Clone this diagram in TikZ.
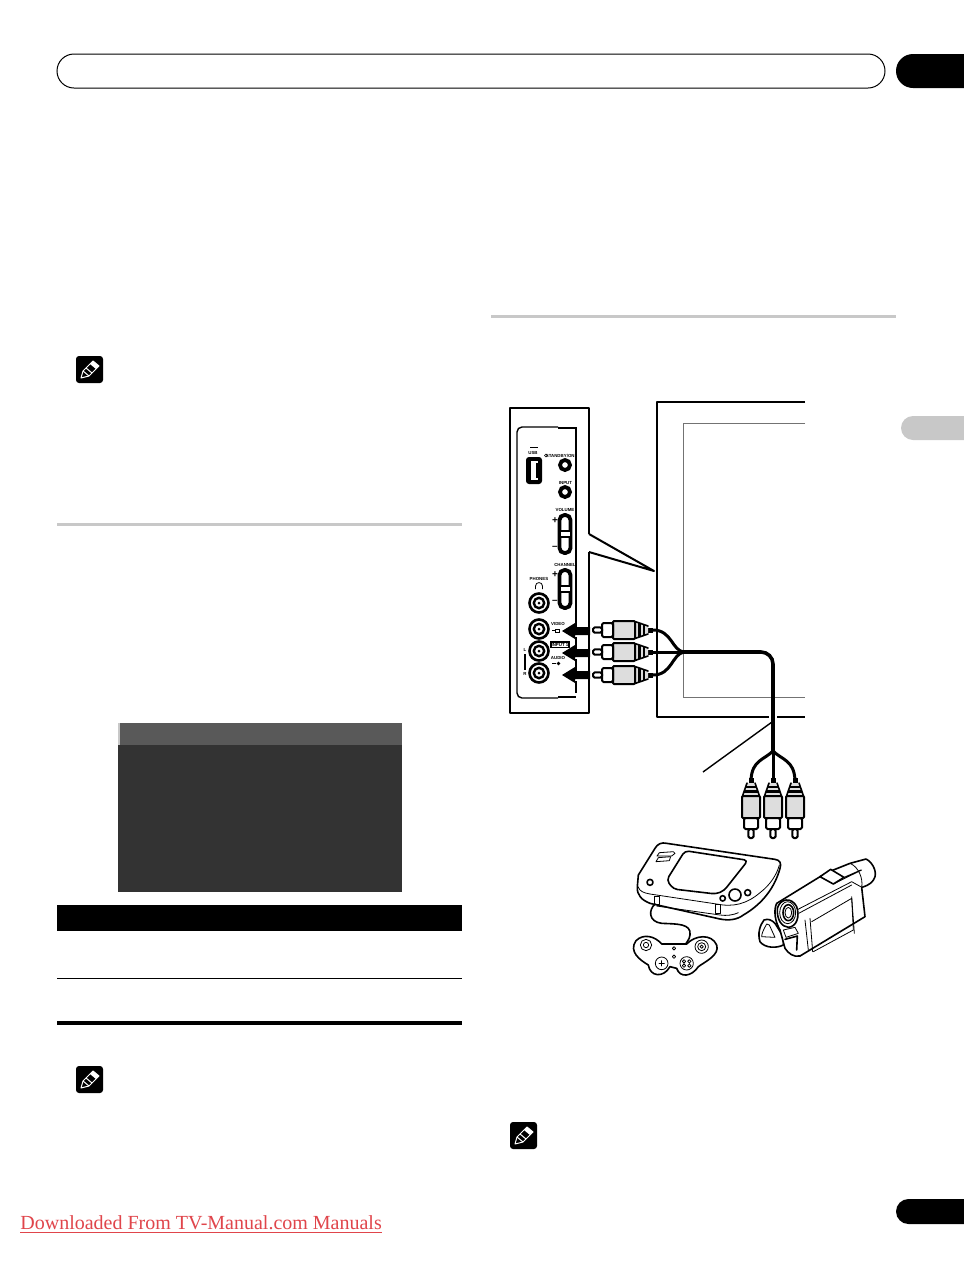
\documentclass[tikz,border=0pt]{standalone}
\usepackage{fontspec}
\setmainfont{Liberation Serif}
\setsansfont{Liberation Sans}
\usepackage{xcolor}
\definecolor{rulegrey}{HTML}{C8C8C8}
\definecolor{boxdark}{HTML}{333333}
\definecolor{boxhead}{HTML}{595959}
\definecolor{plugbody}{HTML}{DDDDDD}
\definecolor{linkred}{HTML}{E0454B}
\tikzset{>=latex}
\tikzset{
    panellabel/.style={font=\sffamily\bfseries\fontsize{2.2}{2.2}\selectfont, inner sep=0pt},
    signlabel/.style={font=\sffamily\bfseries\fontsize{5}{5}\selectfont, inner sep=0pt},
    panelline/.style={line width=1pt, line join=round},
    gadget/.style={line width=.8pt, line join=round, line cap=round},
    gadgetthin/.style={line width=.4pt, line join=round, line cap=round},
    cable/.style={line width=1.5pt, line cap=round},
    jack/.pic={
        \draw[line width=1.3pt] (0, 0) circle (9.5);
        \draw[line width=1.2pt] (0, 0) circle (5.2);
        \fill (0, 0) circle (1.5);
    },
    smalljack/.pic={
        \draw[line width=1.9pt] (0, 0) circle (5);
    },
    rockerkey/.pic={
        \draw[line width=1.9pt, rounded corners=2.5pt] (-5.5, 0) rectangle (5.5, 38);
        \fill[white] (-4.5, 16) rectangle (4.5, 22);
        \draw[line width=1.1pt] (-5, 16) -- (5, 16) (-5, 22) -- (5, 22);
    },
    rcaplug/.pic={
        % neck, taper, grey body, collar and pin, from the cable end
        \fill (0, -2.5) rectangle (5, 2.5);
        \fill[plugbody] (5, -4) -- (18, -8.5) -- (18, 8.5) -- (5, 4) -- cycle;
        \draw[gadget] (5, -4) -- (18, -8.5) (5, 4) -- (18, 8.5);
        \draw[line width=1.2pt] (9, -5.2) -- (9, 5.2);
        \draw[line width=1.2pt] (13.5, -6.6) -- (13.5, 6.6);
        \draw[panelline, fill=plugbody, rounded corners=.5pt] (18, -9) rectangle (40, 9);
        \draw[panelline, fill=white, rounded corners=.75pt] (40, -7) rectangle (51, 7);
        \draw[panelline, fill=white, rounded corners=.75pt] (51, -2.6) rectangle (60, 2.6);
    },
    penicon/.pic={
        \fill[rounded corners=1.5pt] (0, 0) rectangle (27, 27);
        \draw[white, line width=.5pt, line join=round] (5, 22) -- (7, 15) -- (17, 5) -- (23, 10) -- (13, 20) -- cycle;
        \draw[white, line width=.5pt] (7, 15) -- (13, 20) (10, 12) -- (16, 17);
        \fill[white] (14, 8) -- (17, 5) -- (23, 10) -- (20, 13) -- cycle;
    },
}

\begin{document}
\begin{tikzpicture}[x=.5pt, y=-.5pt]
    \useasboundingbox (0, 0) rectangle (964, 1270);
    \fill[white] (0, 0) rectangle (964, 1270);

    % page furniture
    \draw[line width=.5pt, rounded corners=8.5pt] (57, 54) rectangle (885, 88);
    \fill (964, 54) -- (913, 54) .. controls (903.6, 54) and (896, 61.6) .. (896, 71)
        .. controls (896, 80.4) and (903.6, 88) .. (913, 88) -- (964, 88) -- cycle;
    \fill (964, 1199) -- (908.5, 1199) .. controls (901.6, 1199) and (896, 1204.6) .. (896, 1211.5)
        .. controls (896, 1218.4) and (901.6, 1224) .. (908.5, 1224) -- (964, 1224) -- cycle;
    \fill[rulegrey] (964, 416) -- (913, 416) .. controls (906.4, 416) and (901, 421.4) .. (901, 428)
        .. controls (901, 434.6) and (906.4, 440) .. (913, 440) -- (964, 440) -- cycle;
    \fill[rulegrey] (57, 522.5) rectangle (462, 526);
    \fill[rulegrey] (491, 314.5) rectangle (896, 318);
    \pic at (76, 356) {penicon};
    \pic at (76, 1066) {penicon};
    \pic at (510, 1122) {penicon};

    % menu screen
    \fill[boxdark] (118, 745) rectangle (402, 892);
    \fill[boxhead] (120, 723) rectangle (402, 745);
    \fill[rulegrey] (118, 723) rectangle (120, 745);

    % table
    \fill (57, 905) rectangle (462, 931);
    \draw[line width=.5pt] (57, 978) -- (462, 978);
    \fill (57, 1021) rectangle (462, 1025);

    % television
    \draw[panelline] (805, 402) -- (657, 402) -- (657, 717) -- (769, 717);
    \draw[panelline] (777, 717) -- (805, 717);
    \draw[line width=.5pt, draw=black!55] (805, 423) -- (683, 423) -- (683, 697) -- (805, 697);

    % side panel
    \draw[panelline] (589, 534) -- (589, 408) -- (510, 408) -- (510, 713) -- (589, 713) -- (589, 552);
    \draw[panelline] (589, 534) -- (654, 571) -- (589, 552);
    \draw[line width=.7pt, rounded corners=2.5pt] (558, 427) -- (517, 427) -- (517, 698) -- (558, 698);
    \draw[line width=.7pt] (558, 428) -- (576, 428) -- (576, 615) (558, 697) -- (576, 697);
    \draw[line width=.7pt, dash pattern=on 6 off 5] (576, 615) -- (576, 697);

    \fill[rounded corners=1.5pt] (526, 457) rectangle (542, 484);
    \fill[white] (531, 461) rectangle (536, 480);
    \fill[white] (536, 461) rectangle (538, 463);
    \fill[white] (536, 478) rectangle (538, 480);
    \draw[line width=.4pt] (530, 447) -- (538, 447);
    \node[panellabel] (usblabel) at (533, 453) {USB};

    \pic at (565, 465) {smalljack};
    \pic at (565, 492) {smalljack};
    \node[panellabel, anchor=east] (standbylabel) at (575, 455.5) {STANDBY/ON};
    \draw[line width=.25pt] (546, 455.5) circle (1.5);
    \node[panellabel] (inputlabel) at (565.5, 483) {INPUT};
    \node[panellabel] (volumelabel) at (565, 510) {VOLUME};
    \node[panellabel] (channellabel) at (565, 565) {CHANNEL};
    \node[panellabel] (phoneslabel) at (539, 579) {PHONES};
    \pic at (565, 515) {rockerkey};
    \pic at (565, 570) {rockerkey};
    \node[signlabel] (volplus) at (555, 521) {+};
    \node[signlabel] (volminus) at (555, 548) {--};
    \node[signlabel] (chplus) at (555, 575) {+};
    \node[signlabel] (chminus) at (555, 602) {--};

    \draw[line width=.4pt] (535.5, 589) -- (535.5, 586) .. controls (535.5, 581.5) and (542.5, 581.5) .. (542.5, 586) -- (542.5, 589);
    \foreach \jacky in {603, 629, 651, 673} {
        \pic at (539, \jacky) {jack};
    }

    \node[panellabel] (videolabel) at (558, 624) {VIDEO};
    \draw[line width=.3pt] (555, 629) rectangle (559, 632);
    \draw[line width=.3pt] (552, 630.5) -- (555, 630.5);
    \draw[line width=.7pt, fill=white] (551, 642) rectangle (569, 647.5);
    \node[panellabel] (inputbox) at (560, 644.8) {INPUT 1};
    \node[panellabel] (audiolabel) at (558, 658) {AUDIO};
    \fill (558.5, 663.5) circle (1.8);
    \draw[line width=.3pt] (552, 663.5) -- (556, 663.5);
    \node[panellabel] (leftlabel) at (525, 650) {L};
    \node[panellabel] (rightlabel) at (525, 674) {R};
    \draw[line width=.7pt] (525, 654) -- (525, 670);

    % push arrows
    \foreach \arrowy in {631, 653, 675} {
        \fill (562, \arrowy) -- (575, \arrowy - 8) -- (575, \arrowy - 4) -- (590, \arrowy - 4)
            -- (590, \arrowy + 4) -- (575, \arrowy + 4) -- (575, \arrowy + 8) -- cycle;
    }

    % cables
    \draw[cable] (653, 630) .. controls (672, 630) and (672, 651) .. (684, 652);
    \draw[cable] (653, 675) .. controls (672, 675) and (672, 654) .. (684, 652);
    \draw[cable] (653, 652) -- (682, 652);
    \draw[line width=2pt] (680, 652) -- (726, 652);
    \draw[line width=1.8pt, rounded corners=6pt] (724, 652) -- (773, 652) -- (773, 752);
    \draw[cable] (773, 752) -- (773, 780);
    \draw[cable] (773, 751) .. controls (764, 760) and (752, 760) .. (751, 780);
    \draw[cable] (773, 751) .. controls (782, 760) and (794, 760) .. (795, 780);
    \draw[line width=.7pt] (703, 772) -- (772, 722);

    \foreach \plugy in {630, 652, 675} {
        \pic[rotate=180] at (653, \plugy) {rcaplug};
    }
    \foreach \plugx in {751, 773, 795} {
        \pic[rotate=-90] at (\plugx, 778) {rcaplug};
    }

    % game console and controller
    \begin{scope}[shift={(620, 700)}, x=.16667pt, y=-.16667pt]
        \draw[gadget, fill=white] (55, 525) -- (105, 445) .. controls (112, 432) and (125, 426) .. (140, 430)
            -- (465, 478) .. controls (480, 480) and (485, 490) .. (480, 505)
            .. controls (465, 560) and (430, 610) .. (370, 645)
            .. controls (350, 660) and (325, 662) .. (300, 657)
            -- (90, 610) .. controls (65, 600) and (50, 585) .. (52, 560) -- cycle;
        \draw[gadgetthin] (54, 560) .. controls (60, 575) and (70, 578) .. (90, 582) -- (290, 612)
            .. controls (340, 622) and (380, 612) .. (420, 578) .. controls (450, 555) and (470, 525) .. (478, 495);
        \draw[gadgetthin] (110, 618) -- (300, 645) .. controls (320, 648) and (340, 645) .. (355, 638);
        \draw[gadget, rounded corners=2pt] (195, 452) -- (384, 481) -- (312, 572) -- (288, 582) -- (160, 567) -- (140, 540) -- cycle;
        \draw[gadgetthin] (111, 468) -- (118, 458) -- (160, 455) -- (165, 460) -- (155, 468) -- cycle;
        \draw[gadgetthin] (108, 485) -- (115, 473) -- (152, 470) -- (148, 482) -- cycle;
        \draw[gadget] (90, 547) circle (9);
        \draw[gadget] (308, 595) circle (8);
        \draw[gadget] (345, 585) circle (18);
        \draw[gadget] (383, 578) circle (9);
        \draw[gadgetthin] (103, 588) rectangle (118, 612);
        \draw[gadgetthin] (285, 612) rectangle (300, 640);
        \draw[gadget] (105, 612) .. controls (85, 630) and (85, 665) .. (125, 670)
            .. controls (170, 672) and (215, 670) .. (210, 705) .. controls (208, 720) and (200, 725) .. (195, 735);
        \draw[gadget, fill=white] (48, 722) .. controls (70, 700) and (105, 708) .. (125, 732)
            -- (200, 732) .. controls (225, 705) and (275, 700) .. (290, 735)
            .. controls (300, 765) and (255, 785) .. (235, 800)
            .. controls (215, 830) and (180, 835) .. (170, 805)
            -- (150, 800) .. controls (130, 835) and (90, 830) .. (85, 795)
            .. controls (60, 780) and (25, 755) .. (48, 722) -- cycle;
        \draw[gadgetthin] (78, 735) circle (17);
        \draw[gadgetthin] (78, 735) circle (8);
        \draw[gadgetthin] (245, 740) circle (20);
        \draw[gadgetthin] (245, 740) circle (12);
        \draw[gadgetthin] (245, 740) circle (5);
        \draw[gadgetthin] (125, 790) circle (19);
        \draw[gadgetthin] (200, 790) circle (20);
        \draw[gadgetthin] (117, 790) -- (133, 790) (125, 782) -- (125, 798);
        \draw[gadgetthin] (192, 784) circle (5) (208, 784) circle (5) (192, 797) circle (5) (208, 797) circle (5);
        \draw[gadgetthin] (162, 745) circle (5);
        \draw[gadgetthin] (162, 770) circle (5);
    \end{scope}

    % camcorder
    \begin{scope}[shift={(620, 700)}, x=.16667pt, y=-.16667pt]
        \draw[gadget, fill=white] (432, 660) .. controls (445, 655) and (455, 660) .. (465, 670)
            -- (490, 710) -- (490, 735) .. controls (470, 745) and (435, 745) .. (420, 725)
            .. controls (412, 700) and (420, 675) .. (432, 660) -- cycle;
        \draw[gadgetthin] (440, 672) .. controls (430, 690) and (425, 700) .. (425, 710) -- (465, 712) -- (448, 675) -- cycle;
        \draw[gadget, fill=white] (470, 610) -- (600, 530) -- (640, 510) -- (690, 490) -- (738, 477)
            .. controls (755, 485) and (770, 510) .. (765, 530) .. controls (760, 545) and (750, 555) .. (725, 562)
            -- (735, 650) -- (540, 768) .. controls (520, 772) and (505, 760) .. (495, 745)
            -- (480, 690) .. controls (465, 665) and (460, 630) .. (470, 610) -- cycle;
        \draw[gadget, fill=white] (600, 530) -- (632, 508) -- (672, 532) -- (640, 552) -- cycle;
        \draw[gadgetthin] (640, 552) -- (725, 510) (672, 532) -- (722, 510);
        \draw[gadgetthin] (690, 490) .. controls (715, 500) and (730, 535) .. (725, 562);
        \draw[gadgetthin] (530, 630) -- (695, 545) -- (722, 560);
        \draw[gadgetthin] (536, 640) -- (695, 555);
        \draw[gadgetthin] (695, 590) -- (703, 700);
        \draw[gadgetthin] (575, 665) -- (695, 595) -- (700, 690) -- (580, 755);
        \draw[gadgetthin] (555, 660) -- (565, 750);
        \draw[gadgetthin] (570, 655) -- (578, 755);
        \draw[gadget, fill=white] (472, 625) .. controls (480, 595) and (515, 590) .. (530, 620)
            .. controls (540, 650) and (530, 680) .. (505, 682) .. controls (485, 680) and (470, 660) .. (472, 625) -- cycle;
        \draw[gadgetthin] (503, 638) ellipse (24 and 33);
        \draw[gadget] (505, 638) ellipse (16 and 24);
        \draw[gadgetthin] (505, 638) ellipse (10 and 16);
        \draw[gadgetthin] (490, 690) -- (525, 682) -- (535, 700) -- (498, 712) -- cycle;
        \draw[gadget] (495, 718) -- (532, 708) -- (530, 750);
    \end{scope}

    % source line at the foot of the page
    \node[font=\fontsize{10}{12}\selectfont, text=linkred, anchor=base west, inner sep=0pt] (downloadlabel) at (20, 1229) {\underline{Downloaded From TV-Manual.com Manuals}};
\end{tikzpicture}
\end{document}
